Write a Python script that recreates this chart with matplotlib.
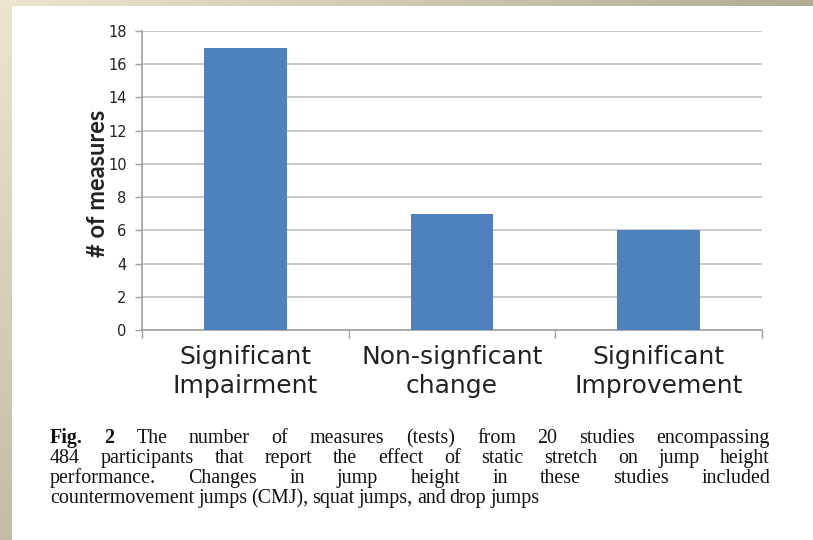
import numpy as np
import matplotlib
matplotlib.use("Agg")
import matplotlib.pyplot as plt
from matplotlib.patches import Rectangle

categories = ["Significant\nImpairment", "Non-signficant\nchange", "Significant\nImprovement"]
measures = [17, 7, 6]
y_ticks = [0, 2, 4, 6, 8, 10, 12, 14, 16, 18]
y_label = "# of measures"
caption_lines = [
    [("Fig.", True), ("2", True), ("The", False), ("number", False), ("of", False), ("measures", False),
     ("(tests)", False), ("from", False), ("20", False), ("studies", False), ("encompassing", False)],
    [(w, False) for w in "484 participants that report the effect of static stretch on jump height".split()],
    [(w, False) for w in "performance. Changes in jump height in these studies included".split()],
    [(w, False) for w in "countermovement jumps (CMJ), squat jumps, and drop jumps".split()],
]

W, H = 813, 540
fig = plt.figure(figsize=(W / 100, H / 100), dpi=100)

# beige frame gradient behind a white page
bg = fig.add_axes([0, 0, 1, 1], zorder=-10)
bg.set_axis_off()
u = np.linspace(0, 1, 200)[None, :, None]
v = np.linspace(0, 1, 140)[:, None, None]
tl = np.array([237, 229, 205]) / 255
tr = np.array([176, 172, 150]) / 255
bl = np.array([196, 189, 166]) / 255
grad = np.clip(tl + (tr - tl) * u + (bl - tl) * v, 0, 1)
bg.imshow(grad, aspect="auto", extent=[0, 1, 0, 1], origin="upper")
bg.add_patch(Rectangle((12 / W, 0), 1, 1 - 6 / H, transform=bg.transAxes,
                       facecolor="white", edgecolor="none"))
bg.set_xlim(0, 1)
bg.set_ylim(0, 1)

ax = fig.add_axes([142 / W, 1 - 330 / H, (762 - 142) / W, (330 - 31) / H])
x = np.arange(len(categories))
ax.bar(x, measures, width=0.4, color="#4f81bd", zorder=3)
ax.set_xlim(-0.5, len(categories) - 0.5)
ax.set_ylim(0, 18)
ax.set_yticks(y_ticks)
ax.set_yticklabels([str(t) for t in y_ticks], fontsize=10.5, fontfamily="DejaVu Sans",
                   color="#222222")
ax.grid(axis="y", color="#c9c9c9", linewidth=1.4, zorder=0)
ax.set_axisbelow(True)

ax.set_xticks(np.arange(len(categories) + 1) - 0.5, minor=False)
ax.set_xticklabels([""] * (len(categories) + 1))
ax.set_xticks(x, minor=True)
ax.set_xticklabels(categories, minor=True, fontsize=18, fontfamily="DejaVu Sans",
                   color="#222222", linespacing=1.25)
ax.tick_params(axis="x", which="major", length=6, color="#a0a0a0", width=1)
ax.tick_params(axis="x", which="minor", length=0, pad=11)
ax.tick_params(axis="y", length=5, color="#a0a0a0", width=1, pad=6)

for side in ["top", "right"]:
    ax.spines[side].set_visible(False)
for side in ["left", "bottom"]:
    ax.spines[side].set_color("#a0a0a0")
    ax.spines[side].set_linewidth(1.2)

fig.text(97 / W, 1 - 183 / H, y_label, rotation=90, ha="center", va="center",
         fontsize=17, fontweight="bold", family=["Lato", "DejaVu Sans"],
         color="#222222")

# justified caption
fig.canvas.draw()
renderer = fig.canvas.get_renderer()
left_px, right_px = 50, 770
baselines = [443, 463, 483, 503]
cap_kw = dict(fontsize=14.4, family="Liberation Serif", color="#111111", va="baseline")
for li, (words, base) in enumerate(zip(caption_lines, baselines)):
    widths = []
    for w, b in words:
        t = fig.text(0, 0, w, fontweight="bold" if b else "normal", **cap_kw)
        widths.append(t.get_window_extent(renderer).width)
        t.remove()
    if li < len(caption_lines) - 1:
        gap = (right_px - left_px - sum(widths)) / (len(words) - 1)
    else:
        gap = 4.0
    xpos = left_px
    for (w, b), wd in zip(words, widths):
        fig.text(xpos / W, 1 - base / H, w, fontweight="bold" if b else "normal", **cap_kw)
        xpos += wd + gap

fig.savefig("out.png", dpi=100)
